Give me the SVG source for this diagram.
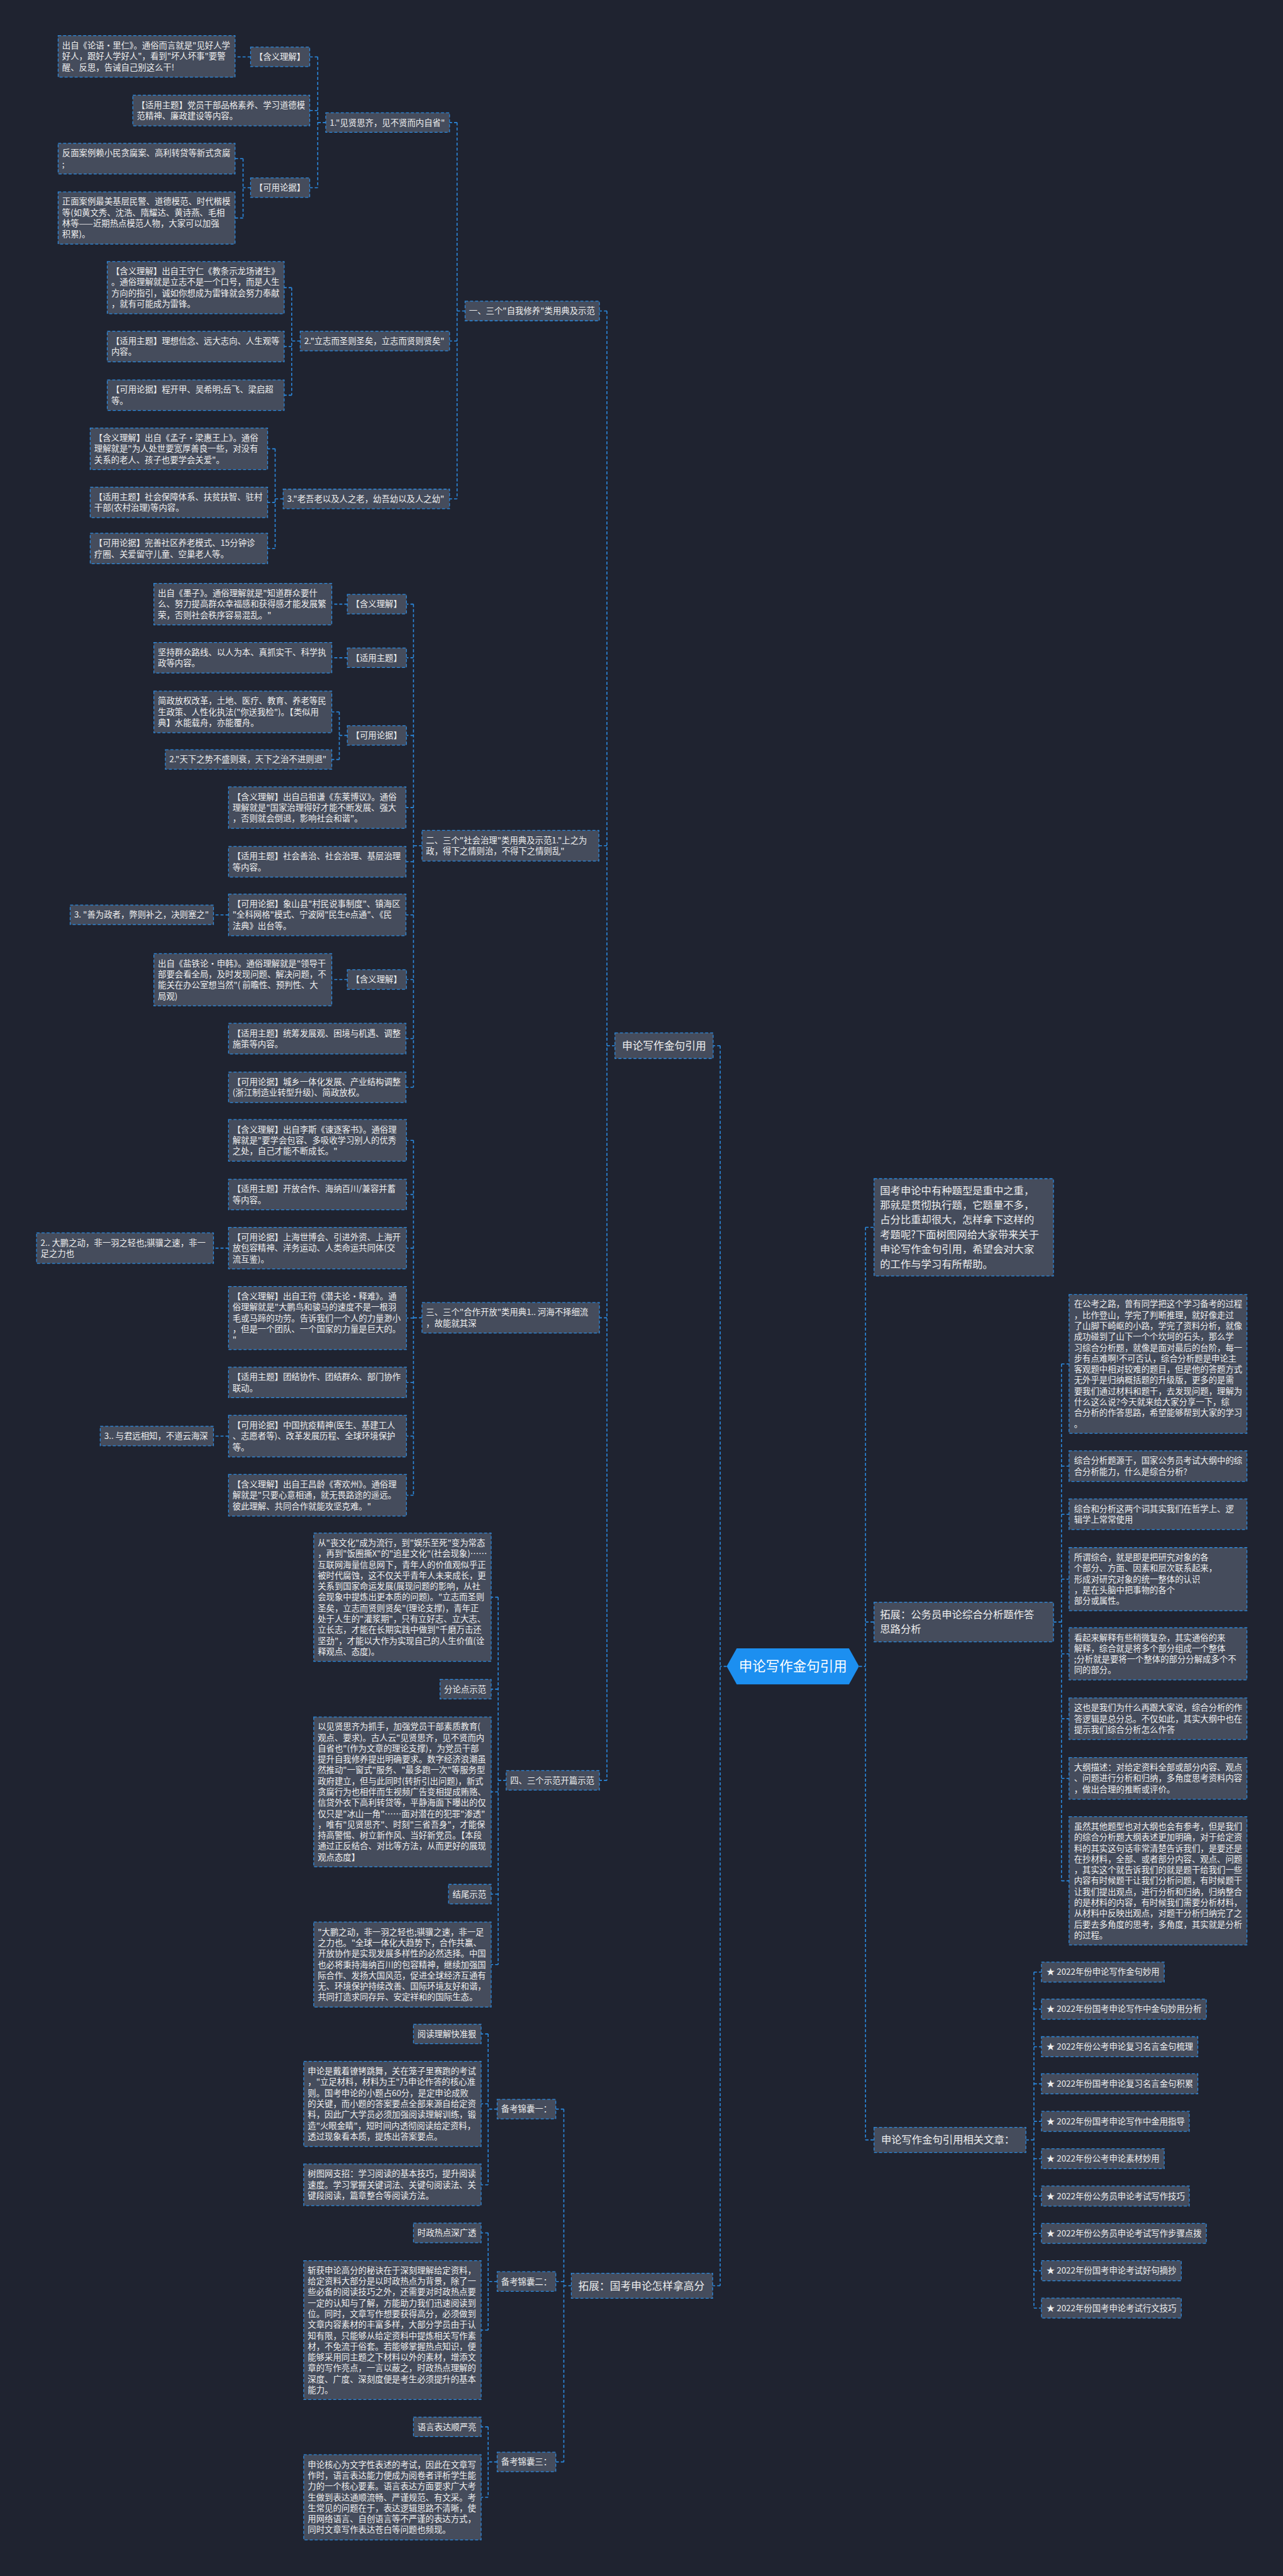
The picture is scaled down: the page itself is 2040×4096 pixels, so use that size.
<svg xmlns="http://www.w3.org/2000/svg" width="2040" height="4096" viewBox="0 0 2040 4096">
<style>
.n{fill:#454c5c;stroke:#2b8ae0;stroke-width:1.6;stroke-dasharray:6 4}
.t{font-family:"Noto Sans CJK SC","Liberation Sans",sans-serif;font-size:16.8px;fill:#eeeeee}
.m{font-size:20.5px}
.b{font-size:21px}
.c{fill:none;stroke:#2b8ae0;stroke-width:2;stroke-dasharray:6 4}
</style>
<rect x="0" y="0" width="2040" height="4096" fill="#1f2330"/>
<g transform="scale(0.796875)">
<g id="connectors">
<path class="c" d="M650 244.5H634 M634 113.5V374.5 M634 113.5H618 M634 220.5H618 M634 374.5H618"/>
<path class="c" d="M500 113.5H469"/>
<path class="c" d="M500 374.5H485 M485 316.5V435 M485 316.5H469 M485 435H469"/>
<path class="c" d="M599 680.5H582 M582 574V788.5 M582 574H567 M582 691.5H567 M582 788.5H567"/>
<path class="c" d="M565 995.5H549 M549 895.5V1094.5 M549 895.5H534 M549 1002.5H534 M549 1094.5H534"/>
<path class="c" d="M928 620.5H912 M912 244.5V995.5 M912 244.5H897 M912 680.5H897 M912 995.5H897"/>
<path class="c" d="M842 1687.5H825 M825 1205.5V2169.5 M825 1205.5H811 M825 1312.5H811 M825 1467.5H811 M825 1611.5H810 M825 1719.5H810 M825 1825.5H810 M825 1954.5H811 M825 2072.5H810 M825 2169.5H810"/>
<path class="c" d="M693 1205.5H662 M693 1312.5H662 M693 1954.5H662 M456 1825.5H426"/>
<path class="c" d="M693 1467.5H677 M677 1420.5V1515.5 M677 1420.5H662 M677 1515.5H662"/>
<path class="c" d="M1227 2086.5H1211 M1211 620.5V3552.5 M1211 620.5H1196 M1211 1687.5H1195 M1211 2629.5H1196 M1211 3552.5H1196"/>
<path class="c" d="M842 2629.5H825 M825 2275.5V2983.5 M825 2275.5H811 M825 2383.5H811 M825 2490.5H811 M825 2630H811 M825 2758.5H811 M825 2865.5H811 M825 2983.5H811"/>
<path class="c" d="M456 2490.5H426 M456 2865.5H426"/>
<path class="c" d="M1010 3552.5H994 M994 3187V3920 M994 3187H980 M994 3370.5H980 M994 3575.5H980 M994 3779.5H980 M994 3920H980"/>
<path class="c" d="M1450 3325H1437 M1437 2086.5V4561 M1437 2086.5H1423 M1437 4561H1422"/>
<path class="c" d="M1140 4561H1125 M1125 4208.5V4912.5 M1125 4208.5H1109 M1125 4552.5H1109 M1125 4912.5H1109"/>
<path class="c" d="M992 4208.5H974 M974 4058.5V4359.5 M974 4058.5H960 M974 4198H960 M974 4359.5H960"/>
<path class="c" d="M992 4552.5H974 M974 4455.5V4649.5 M974 4455.5H960 M974 4649.5H960"/>
<path class="c" d="M992 4912.5H974 M974 4842.5V4983 M974 4842.5H960 M974 4983H960"/>
<path class="c" d="M1714 3325H1727 M1727 2449V4270 M1727 2449H1744 M1727 3236.5H1744 M1727 4270H1744"/>
<path class="c" d="M2102 3236.5H2118 M2118 2721.5V3753 M2118 2721.5H2133 M2118 2925.5H2133 M2118 3021.5H2133 M2118 3151H2133 M2118 3300H2133 M2118 3429.5H2133 M2118 3548.5H2133 M2118 3753H2133"/>
<path class="c" d="M2047 4270H2063 M2063 3935V4605.5 M2063 3935H2078 M2063 4009H2078 M2063 4084H2078 M2063 4158H2078 M2063 4233H2078 M2063 4307.5H2078 M2063 4382H2078 M2063 4456.5H2078 M2063 4531H2078 M2063 4605.5H2078"/>
</g>

<g id="center">
<path d="M1450 3325 L1470 3289 H1694 L1714 3325 L1694 3361 H1470 Z" fill="#1c8ff0"/>
<text class="t" x="1582" y="3334.5" text-anchor="middle" style="font-size:27px;fill:#ffffff">申论写作金句引用</text>
</g>

<g id="n1a"><rect class="n" x="116" y="71" width="353" height="83"/><text class="t"><tspan x="124" y="96.8">出自《论语·里仁》。通俗而言就是"见好人学</tspan><tspan x="124" y="118.5">好人，跟好人学好人"，看到"坏人坏事"要警</tspan><tspan x="124" y="140.2">醒、反思，告诫自己别这么干!</tspan></text></g>
<g id="n1b"><rect class="n" x="500" y="94" width="118" height="39"/><text class="t" x="508" y="119.5">【含义理解】</text></g>
<g id="n1c"><rect class="n" x="265" y="190" width="353" height="61"/><text class="t"><tspan x="273" y="215.6">【适用主题】党员干部品格素养、学习道德模</tspan><tspan x="273" y="237.3">范精神、廉政建设等内容。</tspan></text></g>
<g id="n1d"><rect class="n" x="650" y="225" width="247" height="39"/><text class="t" x="658" y="250.5">1."见贤思齐，见不贤而内自省"</text></g>
<g id="n1e"><rect class="n" x="116" y="286" width="353" height="61"/><text class="t"><tspan x="124" y="311.6">反面案例赖小民贪腐案、高利转贷等新式贪腐</tspan><tspan x="124" y="333.3">;</tspan></text></g>
<g id="n1f"><rect class="n" x="500" y="355" width="118" height="39"/><text class="t" x="508" y="380.5">【可用论据】</text></g>
<g id="n1g"><rect class="n" x="116" y="383" width="353" height="104"/><text class="t"><tspan x="124" y="408.4">正面案例最美基层民警、道德模范、时代楷模</tspan><tspan x="124" y="430.1">等(如黄文秀、沈浩、隋耀达、黄诗燕、毛相</tspan><tspan x="124" y="451.8">林等——近期热点模范人物，大家可以加强</tspan><tspan x="124" y="473.5">积累)。</tspan></text></g>
<g id="n2a"><rect class="n" x="214" y="522" width="353" height="104"/><text class="t"><tspan x="222" y="547.4">【含义理解】出自王守仁《教条示龙场诸生》</tspan><tspan x="222" y="569.1">。通俗理解就是立志不是一个口号，而是人生</tspan><tspan x="222" y="590.8">方向的指引，诚如你想成为雷锋就会努力奉献</tspan><tspan x="222" y="612.5">，就有可能成为雷锋。</tspan></text></g>
<g id="n2b"><rect class="n" x="214" y="661" width="353" height="61"/><text class="t"><tspan x="222" y="686.6">【适用主题】理想信念、远大志向、人生观等</tspan><tspan x="222" y="708.3">内容。</tspan></text></g>
<g id="n2c"><rect class="n" x="214" y="758" width="353" height="61"/><text class="t"><tspan x="222" y="783.6">【可用论据】程开甲、吴希明;岳飞、梁启超</tspan><tspan x="222" y="805.3">等。</tspan></text></g>
<g id="n2d"><rect class="n" x="599" y="661" width="298" height="39"/><text class="t" x="607" y="686.5">2."立志而圣则圣矣，立志而贤则贤矣"</text></g>
<g id="n3a"><rect class="n" x="180" y="854" width="354" height="83"/><text class="t"><tspan x="188" y="879.8">【含义理解】出自《孟子·梁惠王上》。通俗</tspan><tspan x="188" y="901.5">理解就是"为人处世要宽厚善良一些，对没有</tspan><tspan x="188" y="923.2">关系的老人、孩子也要学会关爱"。</tspan></text></g>
<g id="n3b"><rect class="n" x="180" y="972" width="354" height="61"/><text class="t"><tspan x="188" y="997.6">【适用主题】社会保障体系、扶贫扶智、驻村</tspan><tspan x="188" y="1019.3">干部(农村治理)等内容。</tspan></text></g>
<g id="n3c"><rect class="n" x="180" y="1064" width="354" height="61"/><text class="t"><tspan x="188" y="1089.6">【可用论据】完善社区养老模式、15分钟诊</tspan><tspan x="188" y="1111.3">疗圈、关爱留守儿童、空巢老人等。</tspan></text></g>
<g id="n3d"><rect class="n" x="565" y="976" width="332" height="39"/><text class="t" x="573" y="1001.5">3."老吾老以及人之老，幼吾幼以及人之幼"</text></g>
<g id="sec1"><rect class="n" x="928" y="601" width="268" height="39"/><text class="t" x="936" y="626.5">一、三个"自我修养"类用典及示范</text></g>

<g id="s2a"><rect class="n" x="307" y="1164" width="355" height="83"/><text class="t"><tspan x="315" y="1189.8">出自《墨子》。通俗理解就是"知道群众要什</tspan><tspan x="315" y="1211.5">么、努力提高群众幸福感和获得感才能发展繁</tspan><tspan x="315" y="1233.2">荣，否则社会秩序容易混乱。"</tspan></text></g>
<g id="s2b"><rect class="n" x="693" y="1186" width="118" height="39"/><text class="t" x="701" y="1211.5">【含义理解】</text></g>
<g id="s2c"><rect class="n" x="307" y="1282" width="355" height="61"/><text class="t"><tspan x="315" y="1307.6">坚持群众路线、以人为本、真抓实干、科学执</tspan><tspan x="315" y="1329.3">政等内容。</tspan></text></g>
<g id="s2d"><rect class="n" x="693" y="1293" width="118" height="39"/><text class="t" x="701" y="1318.5">【适用主题】</text></g>
<g id="s2e"><rect class="n" x="307" y="1379" width="355" height="83"/><text class="t"><tspan x="315" y="1404.8">简政放权改革，土地、医疗、教育、养老等民</tspan><tspan x="315" y="1426.5">生政策、人性化执法("你送我检")。【类似用</tspan><tspan x="315" y="1448.2">典】水能载舟，亦能覆舟。</tspan></text></g>
<g id="s2f"><rect class="n" x="693" y="1448" width="118" height="39"/><text class="t" x="701" y="1473.5">【可用论据】</text></g>
<g id="s2g"><rect class="n" x="330" y="1496" width="332" height="39"/><text class="t" x="338" y="1521.5">2."天下之势不盛则衰，天下之治不进则退"</text></g>
<g id="s2h"><rect class="n" x="456" y="1570" width="354" height="83"/><text class="t"><tspan x="464" y="1595.8">【含义理解】出自吕祖谦《东莱博议》。通俗</tspan><tspan x="464" y="1617.5">理解就是"国家治理得好才能不断发展、强大</tspan><tspan x="464" y="1639.2">，否则就会倒退，影响社会和谐"。</tspan></text></g>
<g id="sec2"><rect class="n" x="842" y="1657" width="353" height="61"/><text class="t"><tspan x="850" y="1682.6">二、三个"社会治理"类用典及示范1."上之为</tspan><tspan x="850" y="1704.3">政，得下之情则治，不得下之情则乱"</tspan></text></g>
<g id="s2i"><rect class="n" x="456" y="1689" width="354" height="61"/><text class="t"><tspan x="464" y="1714.6">【适用主题】社会善治、社会治理、基层治理</tspan><tspan x="464" y="1736.3">等内容。</tspan></text></g>
<g id="s2j"><rect class="n" x="456" y="1784" width="354" height="83"/><text class="t"><tspan x="464" y="1809.8">【可用论据】象山县"村民说事制度"、镇海区</tspan><tspan x="464" y="1831.5">"全科网格"模式、宁波网"民生e点通"、《民</tspan><tspan x="464" y="1853.2">法典》出台等。</tspan></text></g>
<g id="s2k"><rect class="n" x="140" y="1806" width="286" height="39"/><text class="t" x="148" y="1831.5">3. "善为政者，弊则补之，决则塞之"</text></g>
<g id="s2l"><rect class="n" x="307" y="1903" width="355" height="104"/><text class="t"><tspan x="315" y="1928.4">出自《盐铁论·申韩》。通俗理解就是"领导干</tspan><tspan x="315" y="1950.1">部要会看全局，及时发现问题、解决问题，不</tspan><tspan x="315" y="1971.8">能关在办公室想当然"( 前瞻性、预判性、大</tspan><tspan x="315" y="1993.5">局观)</tspan></text></g>
<g id="s2m"><rect class="n" x="693" y="1935" width="118" height="39"/><text class="t" x="701" y="1960.5">【含义理解】</text></g>
<g id="s2n"><rect class="n" x="456" y="2042" width="354" height="61"/><text class="t"><tspan x="464" y="2067.6">【适用主题】统筹发展观、困境与机遇、调整</tspan><tspan x="464" y="2089.3">施策等内容。</tspan></text></g>
<g id="s2o"><rect class="n" x="456" y="2139" width="354" height="61"/><text class="t"><tspan x="464" y="2164.6">【可用论据】城乡一体化发展、产业结构调整</tspan><tspan x="464" y="2186.3">(浙江制造业转型升级)、简政放权。</tspan></text></g>

<g id="main-left"><rect class="n" x="1227" y="2061" width="196" height="51"/><text class="t b" x="1241" y="2094">申论写作金句引用</text></g>

<g id="s3a"><rect class="n" x="456" y="2234" width="355" height="83"/><text class="t"><tspan x="464" y="2259.8">【含义理解】出自李斯《谏逐客书》。通俗理</tspan><tspan x="464" y="2281.5">解就是"要学会包容、多吸收学习别人的优秀</tspan><tspan x="464" y="2303.2">之处，自己才能不断成长。"</tspan></text></g>
<g id="s3b"><rect class="n" x="456" y="2353" width="355" height="61"/><text class="t"><tspan x="464" y="2378.6">【适用主题】开放合作、海纳百川/兼容并蓄</tspan><tspan x="464" y="2400.3">等内容。</tspan></text></g>
<g id="s3c"><rect class="n" x="456" y="2449" width="355" height="83"/><text class="t"><tspan x="464" y="2474.8">【可用论据】上海世博会、引进外资、上海开</tspan><tspan x="464" y="2496.5">放包容精神、洋务运动、人类命运共同体(交</tspan><tspan x="464" y="2518.2">流互鉴)。</tspan></text></g>
<g id="s3d"><rect class="n" x="73" y="2460" width="353" height="61"/><text class="t"><tspan x="81" y="2485.6">2.. 大鹏之动，非一羽之轻也;骐骥之速，非一</tspan><tspan x="81" y="2507.3">足之力也</tspan></text></g>
<g id="s3e"><rect class="n" x="456" y="2567" width="355" height="126"/><text class="t"><tspan x="464" y="2592.6">【含义理解】出自王符《潜夫论·释难》。通</tspan><tspan x="464" y="2614.3">俗理解就是"大鹏鸟和骏马的速度不是一根羽</tspan><tspan x="464" y="2636">毛或马蹄的功劳。告诉我们一个人的力量渺小</tspan><tspan x="464" y="2657.7">，但是一个团队、一个国家的力量是巨大的。</tspan><tspan x="464" y="2679.4">"</tspan></text></g>
<g id="sec3"><rect class="n" x="842" y="2599" width="354" height="61"/><text class="t"><tspan x="850" y="2624.6">三、三个"合作开放"类用典1.. 河海不择细流</tspan><tspan x="850" y="2646.3">，故能就其深</tspan></text></g>
<g id="s3f"><rect class="n" x="456" y="2728" width="355" height="61"/><text class="t"><tspan x="464" y="2753.6">【适用主题】团结协作、团结群众、部门协作</tspan><tspan x="464" y="2775.3">联动。</tspan></text></g>
<g id="s3g"><rect class="n" x="456" y="2824" width="355" height="83"/><text class="t"><tspan x="464" y="2849.8">【可用论据】中国抗疫精神(医生、基建工人</tspan><tspan x="464" y="2871.5">、志愿者等)、改革发展历程、全球环境保护</tspan><tspan x="464" y="2893.2">等。</tspan></text></g>
<g id="s3h"><rect class="n" x="200" y="2846" width="226" height="39"/><text class="t" x="208" y="2871.5">3.. 与君远相知，不道云海深</text></g>
<g id="s3i"><rect class="n" x="456" y="2942" width="355" height="83"/><text class="t"><tspan x="464" y="2967.8">【含义理解】出自王昌龄《寄欢州》。通俗理</tspan><tspan x="464" y="2989.5">解就是"只要心意相通，就无畏路途的遥远。</tspan><tspan x="464" y="3011.2">彼此理解、共同合作就能攻坚克难。"</tspan></text></g>

<g id="s4a"><rect class="n" x="626" y="3059" width="354" height="256"/><text class="t"><tspan x="634" y="3084.5">从"丧文化"成为流行，到"娱乐至死"变为常态</tspan><tspan x="634" y="3106.2">，再到"饭圈撕X"的"追星文化"(社会现象)……</tspan><tspan x="634" y="3127.9">互联网海量信息网下，青年人的价值观似乎正</tspan><tspan x="634" y="3149.6">被时代腐蚀，这不仅关乎青年人未来成长，更</tspan><tspan x="634" y="3171.3">关系到国家命运发展(展现问题的影响，从社</tspan><tspan x="634" y="3193">会现象中提炼出更本质的问题)。"立志而圣则</tspan><tspan x="634" y="3214.7">圣矣，立志而贤则贤矣"(理论支撑)，青年正</tspan><tspan x="634" y="3236.4">处于人生的"灌浆期"，只有立好志、立大志、</tspan><tspan x="634" y="3258.1">立长志，才能在长期实践中做到"千磨万击还</tspan><tspan x="634" y="3279.8">坚劲"，才能以大作为实现自己的人生价值(诠</tspan><tspan x="634" y="3301.5">释观点、态度)。</tspan></text></g>
<g id="s4b"><rect class="n" x="878" y="3351" width="102" height="39"/><text class="t" x="886" y="3376.5">分论点示范</text></g>
<g id="s4c"><rect class="n" x="626" y="3426" width="354" height="299"/><text class="t"><tspan x="634" y="3451.3">以见贤思齐为抓手，加强党员干部素质教育(</tspan><tspan x="634" y="3473">观点、要求)。古人云"见贤思齐，见不贤而内</tspan><tspan x="634" y="3494.7">自省也"(作为文章的理论支撑)，为党员干部</tspan><tspan x="634" y="3516.4">提升自我修养提出明确要求。数字经济浪潮虽</tspan><tspan x="634" y="3538.1">然推动"一窗式"服务、"最多跑一次"等服务型</tspan><tspan x="634" y="3559.8">政府建立，但与此同时(转折引出问题)，新式</tspan><tspan x="634" y="3581.5">贪腐行为也相伴而生视频广告变相提成贿赂、</tspan><tspan x="634" y="3603.2">信贷外衣下高利转贷等，平静海面下曝出的仅</tspan><tspan x="634" y="3624.9">仅只是"冰山一角"……面对潜在的犯罪"渗透"</tspan><tspan x="634" y="3646.6">，唯有"见贤思齐"、时刻"三省吾身"，才能保</tspan><tspan x="634" y="3668.3">持高警惕、树立新作风、当好新党员。【本段</tspan><tspan x="634" y="3690">通过正反结合、对比等方法，从而更好的展现</tspan><tspan x="634" y="3711.7">观点态度】</tspan></text></g>
<g id="sec4"><rect class="n" x="1010" y="3533" width="186" height="39"/><text class="t" x="1018" y="3558.5">四、三个示范开篇示范</text></g>
<g id="s4d"><rect class="n" x="895" y="3760" width="85" height="39"/><text class="t" x="903" y="3785.5">结尾示范</text></g>
<g id="s4e"><rect class="n" x="626" y="3835" width="354" height="170"/><text class="t"><tspan x="634" y="3860.9">"大鹏之动，非一羽之轻也;骐骥之速，非一足</tspan><tspan x="634" y="3882.6">之力也。"全球一体化大趋势下，合作共赢、</tspan><tspan x="634" y="3904.3">开放协作是实现发展多样性的必然选择。中国</tspan><tspan x="634" y="3926">也必将秉持海纳百川的包容精神，继续加强国</tspan><tspan x="634" y="3947.7">际合作、发扬大国风范，促进全球经济互通有</tspan><tspan x="634" y="3969.4">无、环境保护持续改善、国际环境友好和谐，</tspan><tspan x="634" y="3991.1">共同打造求同存异、安定祥和的国际生态。</tspan></text></g>

<g id="t1"><rect class="n" x="825" y="4039" width="135" height="39"/><text class="t" x="833" y="4064.5">阅读理解快准狠</text></g>
<g id="t2"><rect class="n" x="606" y="4113" width="354" height="170"/><text class="t"><tspan x="614" y="4138.9">申论是戴着镣铐跳舞，关在笼子里赛跑的考试</tspan><tspan x="614" y="4160.6">，"立足材料，材料为王"乃申论作答的核心准</tspan><tspan x="614" y="4182.3">则。国考申论的小题占60分，是定申论成败</tspan><tspan x="614" y="4204">的关键，而小题的答案要点全部来源自给定资</tspan><tspan x="614" y="4225.7">料，因此广大学员必须加强阅读理解训练，锻</tspan><tspan x="614" y="4247.4">造"火眼金睛"，短时间内透彻阅读给定资料，</tspan><tspan x="614" y="4269.1">透过现象看本质，提炼出答案要点。</tspan></text></g>
<g id="t3"><rect class="n" x="992" y="4189" width="117" height="39"/><text class="t" x="1000" y="4214.5">备考锦囊一：</text></g>
<g id="t4"><rect class="n" x="606" y="4318" width="354" height="83"/><text class="t"><tspan x="614" y="4343.8">树图网支招：学习阅读的基本技巧，提升阅读</tspan><tspan x="614" y="4365.5">速度。学习掌握关键词法、关键句阅读法、关</tspan><tspan x="614" y="4387.2">键段阅读，篇章整合等阅读方法。</tspan></text></g>
<g id="t5"><rect class="n" x="825" y="4436" width="135" height="39"/><text class="t" x="833" y="4461.5">时政热点深广透</text></g>
<g id="t6"><rect class="n" x="606" y="4511" width="354" height="277"/><text class="t"><tspan x="614" y="4536.2">斩获申论高分的秘诀在于深刻理解给定资料，</tspan><tspan x="614" y="4557.9">给定资料大部分是以时政热点为背景，除了一</tspan><tspan x="614" y="4579.6">些必备的阅读技巧之外，还需要对时政热点要</tspan><tspan x="614" y="4601.3">一定的认知与了解，方能助力我们迅速阅读到</tspan><tspan x="614" y="4623">位。同时，文章写作想要获得高分，必须做到</tspan><tspan x="614" y="4644.7">文章内容素材的丰富多样，大部分学员由于认</tspan><tspan x="614" y="4666.4">知有限，只能够从给定资料中提炼相关写作素</tspan><tspan x="614" y="4688.1">材，不免流于俗套。若能够掌握热点知识，便</tspan><tspan x="614" y="4709.8">能够采用同主题之下材料以外的素材，增添文</tspan><tspan x="614" y="4731.5">章的写作亮点，一言以蔽之，时政热点理解的</tspan><tspan x="614" y="4753.2">深度、广度、深刻度便是考生必须提升的基本</tspan><tspan x="614" y="4774.9">能力。</tspan></text></g>
<g id="t7"><rect class="n" x="992" y="4533" width="117" height="39"/><text class="t" x="1000" y="4558.5">备考锦囊二：</text></g>
<g id="t8"><rect class="n" x="1140" y="4536" width="282" height="50"/><text class="t b" x="1154" y="4568.5">拓展：国考申论怎样拿高分</text></g>
<g id="t9"><rect class="n" x="825" y="4823" width="135" height="39"/><text class="t" x="833" y="4848.5">语言表达顺严亮</text></g>
<g id="t10"><rect class="n" x="992" y="4893" width="117" height="39"/><text class="t" x="1000" y="4918.5">备考锦囊三：</text></g>
<g id="t11"><rect class="n" x="606" y="4898" width="354" height="170"/><text class="t"><tspan x="614" y="4923.9">申论核心为文字性表述的考试，因此在文章写</tspan><tspan x="614" y="4945.6">作时，语言表达能力便成为阅卷者评析学生能</tspan><tspan x="614" y="4967.3">力的一个核心要素。语言表达方面要求广大考</tspan><tspan x="614" y="4989">生做到表达通顺流畅、严谨规范、有文采。考</tspan><tspan x="614" y="5010.7">生常见的问题在于，表达逻辑思路不清晰，使</tspan><tspan x="614" y="5032.4">用网络语言、自创语言等不严谨的表达方式，</tspan><tspan x="614" y="5054.1">同时文章写作表达苍白等问题也频现。</tspan></text></g>

<g id="r1"><rect class="n" x="1744" y="2352" width="358" height="194"/><text class="t m"><tspan x="1756" y="2382.8">国考申论中有种题型是重中之重，</tspan><tspan x="1756" y="2412.1">那就是贯彻执行题，它题量不多，</tspan><tspan x="1756" y="2441.4">占分比重却很大，怎样拿下这样的</tspan><tspan x="1756" y="2470.7">考题呢?下面树图网给大家带来关于</tspan><tspan x="1756" y="2500">申论写作金句引用，希望会对大家</tspan><tspan x="1756" y="2529.3">的工作与学习有所帮助。</tspan></text></g>
<g id="r2"><rect class="n" x="1744" y="3197" width="358" height="79"/><text class="t m"><tspan x="1756" y="3228.9">拓展：公务员申论综合分析题作答</tspan><tspan x="1756" y="3258.2">思路分析</tspan></text></g>
<g id="r3"><rect class="n" x="2133" y="2583" width="355" height="277"/><text class="t"><tspan x="2143" y="2608.2">在公考之路，曾有同学把这个学习备考的过程</tspan><tspan x="2143" y="2629.9">，比作登山，学完了判断推理，就好像走过</tspan><tspan x="2143" y="2651.6">了山脚下崎岖的小路，学完了资料分析，就像</tspan><tspan x="2143" y="2673.3">成功碰到了山下一个个坎坷的石头，那么学</tspan><tspan x="2143" y="2695">习综合分析题，就像是面对最后的台阶，每一</tspan><tspan x="2143" y="2716.7">步有点难啊!不可否认，综合分析题是申论主</tspan><tspan x="2143" y="2738.4">客观题中相对较难的题目，但是他的答题方式</tspan><tspan x="2143" y="2760.1">无外乎是归纳概括题的升级版，更多的是需</tspan><tspan x="2143" y="2781.8">要我们通过材料和题干，去发现问题，理解为</tspan><tspan x="2143" y="2803.5">什么这么说?今天就来给大家分享一下，综</tspan><tspan x="2143" y="2825.2">合分析的作答思路，希望能够帮到大家的学习</tspan><tspan x="2143" y="2846.9">。</tspan></text></g>
<g id="r4"><rect class="n" x="2133" y="2895" width="355" height="61"/><text class="t"><tspan x="2143" y="2920.6">综合分析题源于，国家公务员考试大纲中的综</tspan><tspan x="2143" y="2942.3">合分析能力，什么是综合分析?</tspan></text></g>
<g id="r5"><rect class="n" x="2133" y="2991" width="355" height="61"/><text class="t"><tspan x="2143" y="3016.6">综合和分析这两个词其实我们在哲学上、逻</tspan><tspan x="2143" y="3038.3">辑学上常常使用</tspan></text></g>
<g id="r6"><rect class="n" x="2133" y="3088" width="355" height="126"/><text class="t"><tspan x="2143" y="3113.6">所谓综合，就是即是把研究对象的各</tspan><tspan x="2143" y="3135.3">个部分、方面、因素和层次联系起来，</tspan><tspan x="2143" y="3157">形成对研究对象的统一整体的认识</tspan><tspan x="2143" y="3178.7">，是在头脑中把事物的各个</tspan><tspan x="2143" y="3200.4">部分或属性。</tspan></text></g>
<g id="r7"><rect class="n" x="2133" y="3248" width="355" height="104"/><text class="t"><tspan x="2143" y="3273.5">看起来解释有些稍微复杂，其实通俗的来</tspan><tspan x="2143" y="3295.2">解释，综合就是将多个部分组成一个整体</tspan><tspan x="2143" y="3316.9">;分析就是要将一个整体的部分分解成多个不</tspan><tspan x="2143" y="3338.6">同的部分。</tspan></text></g>
<g id="r8"><rect class="n" x="2133" y="3388" width="355" height="83"/><text class="t"><tspan x="2143" y="3413.8">这也是我们为什么再跟大家说，综合分析的作</tspan><tspan x="2143" y="3435.5">答逻辑是总分总。不仅如此，其实大纲中也在</tspan><tspan x="2143" y="3457.2">提示我们综合分析怎么作答</tspan></text></g>
<g id="r9"><rect class="n" x="2133" y="3507" width="355" height="83"/><text class="t"><tspan x="2143" y="3532.8">大纲描述：对给定资料全部或部分内容、观点</tspan><tspan x="2143" y="3554.5">、问题进行分析和归纳，多角度思考资料内容</tspan><tspan x="2143" y="3576.2">，做出合理的推断或评价。</tspan></text></g>
<g id="r10"><rect class="n" x="2133" y="3625" width="355" height="256"/><text class="t"><tspan x="2143" y="3650.5">虽然其他题型也对大纲也会有参考，但是我们</tspan><tspan x="2143" y="3672.2">的综合分析题大纲表述更加明确，对于给定资</tspan><tspan x="2143" y="3693.9">料的其实这句话非常清楚告诉我们，是要还是</tspan><tspan x="2143" y="3715.6">在抄材料，全部、或者部分内容、观点、问题</tspan><tspan x="2143" y="3737.3">，其实这个就告诉我们的就是题干给我们一些</tspan><tspan x="2143" y="3759">内容有时候题干让我们分析问题，有时候题干</tspan><tspan x="2143" y="3780.7">让我们提出观点，进行分析和归纳，归纳整合</tspan><tspan x="2143" y="3802.4">的是材料的内容，有时候我们需要分析材料，</tspan><tspan x="2143" y="3824.1">从材料中反映出观点，对题干分析归纳完了之</tspan><tspan x="2143" y="3845.8">后要去多角度的思考，多角度，其实就是分析</tspan><tspan x="2143" y="3867.5">的过程。</tspan></text></g>
<g id="r11"><rect class="n" x="1744" y="4245" width="303" height="50"/><text class="t m" x="1758" y="4277">申论写作金句引用相关文章：</text></g>

<g id="a1"><rect class="n" x="2078" y="3915" width="245" height="40"/><text class="t" x="2088" y="3941">★ 2022年份申论写作金句妙用</text></g>
<g id="a2"><rect class="n" x="2078" y="3989" width="329" height="40"/><text class="t" x="2088" y="4015">★ 2022年份国考申论写作中金句妙用分析</text></g>
<g id="a3"><rect class="n" x="2078" y="4064" width="312" height="40"/><text class="t" x="2088" y="4090">★ 2022年份公考申论复习名言金句梳理</text></g>
<g id="a4"><rect class="n" x="2078" y="4138" width="312" height="40"/><text class="t" x="2088" y="4164">★ 2022年份国考申论复习名言金句积累</text></g>
<g id="a5"><rect class="n" x="2078" y="4213" width="295" height="40"/><text class="t" x="2088" y="4239">★ 2022年份国考申论写作中金用指导</text></g>
<g id="a6"><rect class="n" x="2078" y="4287.5" width="245" height="40"/><text class="t" x="2088" y="4313.5">★ 2022年份公考申论素材妙用</text></g>
<g id="a7"><rect class="n" x="2078" y="4362" width="295" height="40"/><text class="t" x="2088" y="4388">★ 2022年份公务员申论考试写作技巧</text></g>
<g id="a8"><rect class="n" x="2078" y="4436.5" width="329" height="40"/><text class="t" x="2088" y="4462.5">★ 2022年份公务员申论考试写作步骤点拨</text></g>
<g id="a9"><rect class="n" x="2078" y="4511" width="279" height="40"/><text class="t" x="2088" y="4537">★ 2022年份国考申论考试好句摘抄</text></g>
<g id="a10"><rect class="n" x="2078" y="4585.5" width="279" height="40"/><text class="t" x="2088" y="4611.5">★ 2022年份国考申论考试行文技巧</text></g>
</g>
</svg>
